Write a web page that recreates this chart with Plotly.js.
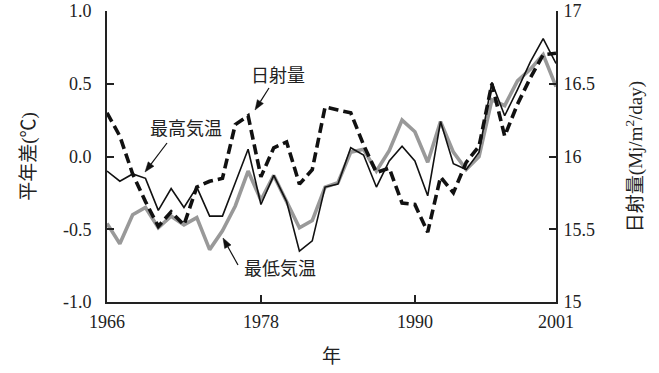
<!DOCTYPE html>
<html>
<head>
<meta charset="utf-8">
<script src="https://cdn.plot.ly/plotly-3.0.1.min.js"></script>
<style>
  html, body { margin: 0; padding: 0; background: #fff; }
  #chart { width: 659px; height: 373px; }
</style>
</head>
<body>
<div id="chart"></div>
<script>
// Annual series 1966–2001
const years = [];
for (let y = 1966; y <= 2001; y++) years.push(y);

// Maximum temperature, departure from normal (°C)
const tmaxAnomaly = [
  -0.10, -0.17, -0.12, -0.15, -0.37, -0.22, -0.35, -0.21, -0.41, -0.41,
  -0.18,  0.05, -0.33, -0.13, -0.31, -0.65, -0.58, -0.21, -0.19,  0.06,
   0.01, -0.21, -0.03,  0.07, -0.03, -0.27,  0.24, -0.05, -0.09,  0.03,
   0.51,  0.28,  0.46,  0.65,  0.81,  0.64
];

// Minimum temperature, departure from normal (°C)
const tminAnomaly = [
  -0.46, -0.60, -0.40, -0.35, -0.49, -0.41, -0.47, -0.42, -0.64, -0.51,
  -0.34, -0.10, -0.30, -0.13, -0.31, -0.49, -0.44, -0.21, -0.18,  0.03,
   0.05, -0.10,  0.04,  0.25,  0.17, -0.04,  0.24,  0.03, -0.09,  0.00,
   0.39,  0.35,  0.52,  0.60,  0.70,  0.48
];

// Solar radiation (MJ/m2/day)
const solarRadiation = [
  16.30, 16.14, 15.88, 15.69, 15.52, 15.62, 15.53, 15.79, 15.83, 15.85,
  16.22, 16.28, 15.86, 16.06, 16.10, 15.81, 15.91, 16.34, 16.32, 16.30,
  16.08, 15.89, 15.92, 15.68, 15.67, 15.48, 15.86, 15.75, 15.96, 16.07,
  16.50, 16.14, 16.36, 16.54, 16.70, 16.71
];

const xTickVals = [1966, 1978, 1990, 2001];
const leftTickVals = [-1.0, -0.5, 0.0, 0.5, 1.0];
const leftTickText = ['-1.0', '-0.5', '0.0', '0.5', '1.0'];
const rightTickVals = [15, 15.5, 16, 16.5, 17];
const rightTickText = ['15', '15.5', '16', '16.5', '17'];

const FONT = '"Liberation Serif", "Noto Sans CJK JP", serif';
const W = 659, H = 373;
const M = { l: 107, r: 103, t: 11, b: 71 };
const PW = W - M.l - M.r, PH = H - M.t - M.b;

// pixel position on the page -> paper coordinates
const px = x => (x - M.l) / PW;
const py = y => (H - M.b - y) / PH;

// thin pointer with a filled triangular head, from (x0,y0) to (x1,y1) in page pixels
function pointer(x0, y0, x1, y1) {
  const dx = x1 - x0, dy = y1 - y0, len = Math.hypot(dx, dy);
  const ux = dx / len, uy = dy / len;
  const headLen = 10, halfW = 3.6;
  const bx = x1 - ux * headLen, by = y1 - uy * headLen;
  const lx = bx - uy * halfW, ly = by + ux * halfW;
  const rx = bx + uy * halfW, ry = by - ux * halfW;
  return [
    { type: 'line', xref: 'paper', yref: 'paper',
      x0: px(x0), y0: py(y0), x1: px(bx), y1: py(by),
      line: { color: '#111', width: 1.2 } },
    { type: 'path', xref: 'paper', yref: 'paper',
      path: `M ${px(x1)} ${py(y1)} L ${px(lx)} ${py(ly)} L ${px(rx)} ${py(ry)} Z`,
      fillcolor: '#111', line: { color: '#111', width: 0.5 } }
  ];
}

const traces = [
  {
    x: years, y: solarRadiation, yaxis: 'y2', type: 'scatter', mode: 'lines',
    name: '日射量',
    line: { color: '#111', width: 3.6, dash: '10px,5px' }
  },
  {
    x: years, y: tminAnomaly, type: 'scatter', mode: 'lines',
    name: '最低気温',
    line: { color: '#999999', width: 3.6 }
  },
  {
    x: years, y: tmaxAnomaly, type: 'scatter', mode: 'lines',
    name: '最高気温',
    line: { color: '#111', width: 1.6 }
  }
];

const axisCommon = {
  showline: true, linecolor: '#222', linewidth: 2,
  ticks: 'inside', ticklen: 7, tickwidth: 2, tickcolor: '#222',
  showgrid: false, zeroline: false,
  tickfont: { family: FONT, size: 18, color: '#222' }
};

const labelFont = { family: FONT, size: 18, color: '#222' };

const layout = {
  width: W, height: H,
  margin: M,
  paper_bgcolor: '#fff', plot_bgcolor: '#fff',
  showlegend: false,
  font: { family: FONT, color: '#222' },
  xaxis: Object.assign({}, axisCommon, {
    range: [1966, 2001],
    tickvals: xTickVals,
    ticklabelstandoff: 2,
    title: { text: '年', font: { family: FONT, size: 19 }, standoff: 19 }
  }),
  yaxis: Object.assign({}, axisCommon, {
    range: [-1, 1],
    tickvals: leftTickVals, ticktext: leftTickText,
    ticklabelstandoff: 10,
    title: { text: '平年差(℃)', font: { family: FONT, size: 19 }, standoff: 22 }
  }),
  yaxis2: Object.assign({}, axisCommon, {
    range: [15, 17],
    overlaying: 'y', side: 'right',
    tickvals: rightTickVals, ticktext: rightTickText,
    ticklabelstandoff: 2,
    title: { text: '日射量(Mj/m<sup>2</sup>/day)', font: { family: FONT, size: 19 }, standoff: 35 }
  }),
  annotations: [
    { xref: 'paper', yref: 'paper', x: px(278), y: py(76), xanchor: 'center', yanchor: 'middle',
      text: '日射量', showarrow: false, font: labelFont },
    { xref: 'paper', yref: 'paper', x: px(186), y: py(129), xanchor: 'center', yanchor: 'middle',
      text: '最高気温', showarrow: false, font: labelFont },
    { xref: 'paper', yref: 'paper', x: px(280), y: py(269), xanchor: 'center', yanchor: 'middle',
      text: '最低気温', showarrow: false, font: labelFont }
  ],
  shapes: [].concat(
    pointer(269, 88, 255, 110),
    pointer(167, 143, 145, 172),
    pointer(238, 265, 223, 238)
  )
};

Plotly.newPlot('chart', traces, layout, { staticPlot: true, displayModeBar: false });
</script>
</body>
</html>
